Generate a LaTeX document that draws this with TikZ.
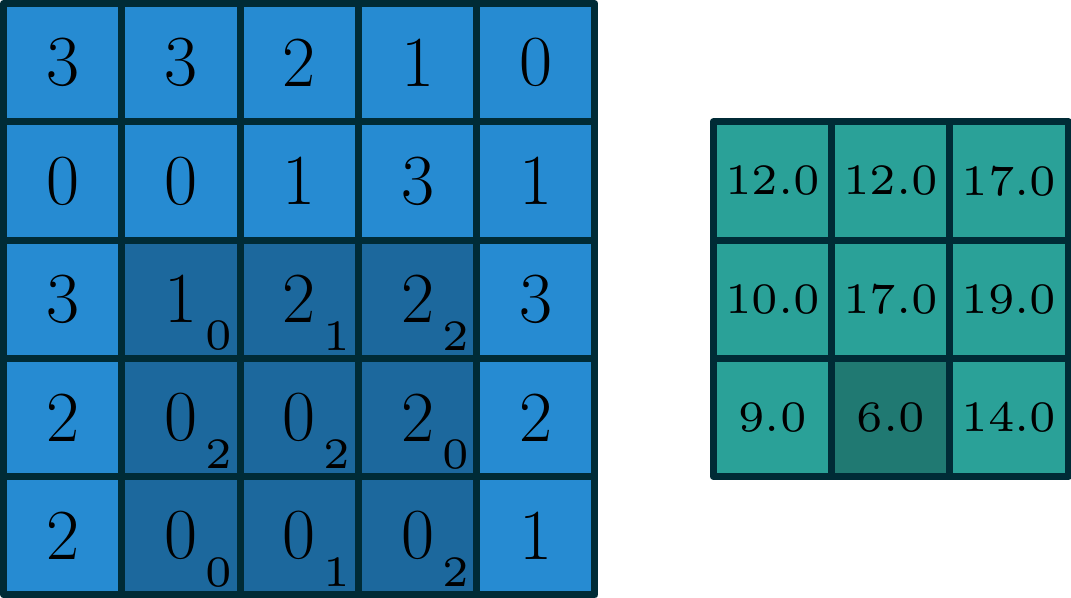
\documentclass[tikz,border=0pt]{standalone}
\usepackage{graphicx}
\definecolor{lineC}{HTML}{002B36}
\definecolor{blueC}{HTML}{268BD2}
\definecolor{cyanC}{HTML}{2AA198}
\newcommand\mysmall[1]{\scalebox{1.74}{\fontsize{6}{7}\selectfont #1}}
\begin{document}
\begin{tikzpicture}[
  cellbox/.style={draw=lineC, line width=1.68pt, line join=round, minimum size=1cm,
    inner sep=0pt, outer sep=0pt, text=black},
  inlight/.style={cellbox, fill=blueC, font=\LARGE},
  inshade/.style={cellbox, fill=blueC!75!black, font=\LARGE},
  outlight/.style={cellbox, fill=cyanC},
  outshade/.style={cellbox, fill=cyanC!75!black},
  subnum/.style={inner sep=0pt, text=black}
]
\useasboundingbox (-0.0296,-0.0254) rectangle (9.024,5.0296);
% input grid (column c = 1..5 from left, row r = 1..5 from top)
\foreach \c/\r/\v/\s in {
  1/1/3/inlight, 2/1/3/inlight, 3/1/2/inlight, 4/1/1/inlight, 5/1/0/inlight,
  1/2/0/inlight, 2/2/0/inlight, 3/2/1/inlight, 4/2/3/inlight, 5/2/1/inlight,
  1/3/3/inlight, 2/3/1/inshade, 3/3/2/inshade, 4/3/2/inshade, 5/3/3/inlight,
  1/4/2/inlight, 2/4/0/inshade, 3/4/0/inshade, 4/4/2/inshade, 5/4/2/inlight,
  1/5/2/inlight, 2/5/0/inshade, 3/5/0/inshade, 4/5/0/inshade, 5/5/1/inlight}
  \node[\s] (in-\c-\r) at (\c-0.5, 5.5-\r) {\v};
% kernel weights
\foreach \c/\r/\w in {
  2/3/0, 3/3/1, 4/3/2,
  2/4/2, 3/4/2, 4/4/0,
  2/5/0, 3/5/1, 4/5/2}
  \node[subnum] (w-\c-\r) at ([shift={(0.32,-0.31)}]in-\c-\r.center) {\mysmall{\w}};
% output grid
\foreach \c/\r/\v/\s in {
  1/1/12.0/outlight, 2/1/12.0/outlight, 3/1/17.0/outlight,
  1/2/10.0/outlight, 2/2/17.0/outlight, 3/2/19.0/outlight,
  1/3/9.0/outlight,  2/3/6.0/outshade,  3/3/14.0/outlight}
  \node[\s] (out-\c-\r) at (5.5+\c, 4.5-\r) {\mysmall{\v}};
\end{tikzpicture}
\end{document}
